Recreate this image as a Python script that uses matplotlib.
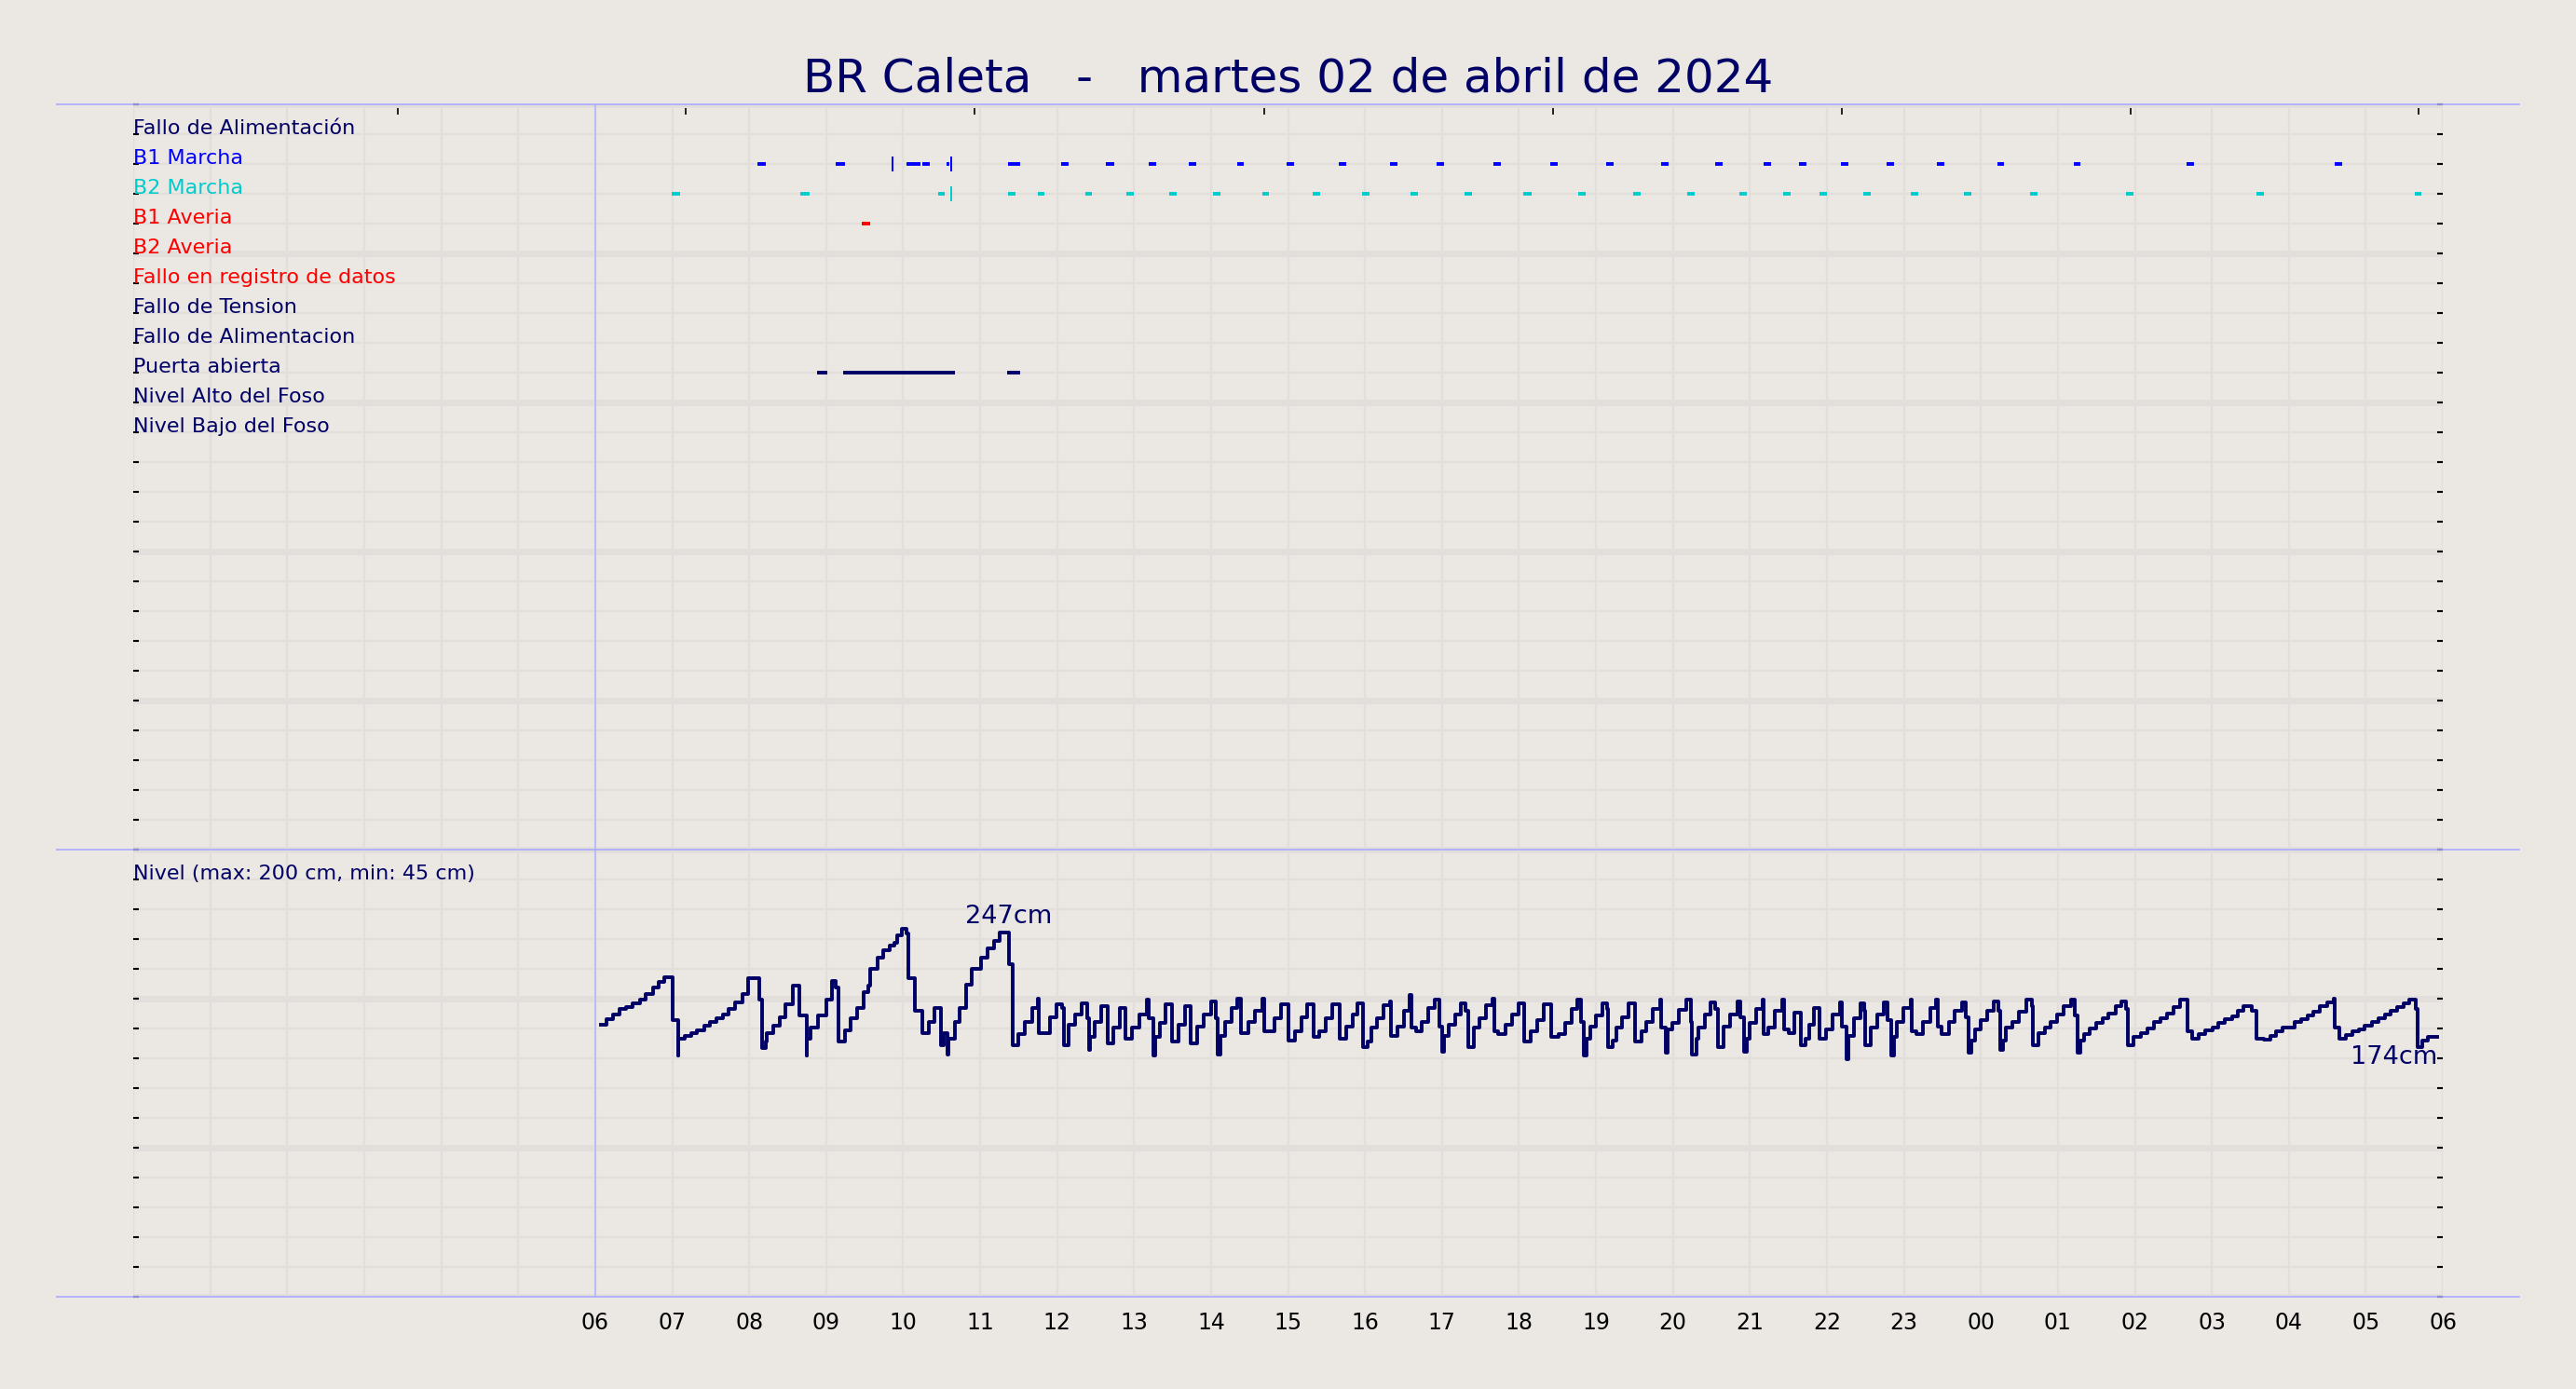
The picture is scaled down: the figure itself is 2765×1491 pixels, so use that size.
import matplotlib
matplotlib.use("Agg")
import matplotlib.pyplot as plt
from matplotlib.lines import Line2D
from matplotlib.ticker import MultipleLocator

## data (hours since 06:00, cm)
titulo = "BR Caleta   -   martes 02 de abril de 2024"
horas_lbl = ["06", "07", "08", "09", "10", "11", "12", "13", "14", "15", "16", "17",
             "18", "19", "20", "21", "22", "23", "00", "01", "02", "03", "04", "05", "06"]

senales = ["Fallo de Alimentación", "B1 Marcha", "B2 Marcha", "B1 Averia", "B2 Averia",
           "Fallo en registro de datos", "Fallo de Tension", "Fallo de Alimentacion",
           "Puerta abierta", "Nivel Alto del Foso", "Nivel Bajo del Foso"]
senales_color = ["#000066", "#0000ff", "#00cccc", "#ff0000", "#ff0000",
                 "#ff0000", "#000066", "#000066", "#000066", "#000066", "#000066"]

b1_ini = [2.105, 3.119, 4.042, 4.248, 4.561, 5.361, 6.046, 6.630, 7.185, 7.715, 8.341, 8.981,
          9.659, 10.325, 10.929, 11.669, 12.404, 13.134, 13.847, 14.551, 15.176, 15.637,
          16.181, 16.774, 17.425, 18.213, 19.205, 20.670, 22.596]
b1_fin = [2.212, 3.243, 4.221, 4.345, 4.605, 5.517, 6.143, 6.737, 7.283, 7.812, 8.425, 9.076,
          9.753, 10.420, 11.029, 11.764, 12.504, 13.228, 13.942, 14.645, 15.275, 15.737,
          16.276, 16.869, 17.525, 18.297, 19.294, 20.769, 22.690]
b1_puntual = [3.864, 4.625]

b2_ini = [0.991, 2.660, 4.454, 5.360, 5.744, 6.364, 6.895, 7.461, 8.026, 8.666, 9.317, 9.963,
          10.593, 11.291, 12.058, 12.771, 13.485, 14.183, 14.860, 15.433, 15.905, 16.470,
          17.089, 17.777, 18.638, 19.882, 21.578, 23.635]
b2_fin = [1.100, 2.783, 4.535, 5.458, 5.831, 6.446, 6.991, 7.558, 8.120, 8.750, 9.417, 10.057,
          10.687, 11.391, 12.163, 12.866, 13.580, 14.283, 14.960, 15.527, 16.000, 16.564,
          17.184, 17.871, 18.732, 19.982, 21.672, 23.719]
b2_puntual = [4.625]

b1_averia_ini = [3.460]
b1_averia_fin = [3.568]

puerta_ini = [2.877, 3.217, 5.344]
puerta_fin = [3.011, 4.675, 5.522]

nivel_horas = [
    0.073, 0.141, 0.234, 0.315, 0.403, 0.488, 0.577, 0.657, 0.746, 0.827, 0.899, 1.000,
    1.073, 1.080, 1.162, 1.242, 1.323, 1.412, 1.492, 1.573, 1.654, 1.734, 1.815, 1.908,
    1.989, 2.130, 2.170, 2.210, 2.230, 2.310, 2.392, 2.473, 2.561, 2.654, 2.743, 2.750,
    2.795, 2.896, 2.997, 3.078, 3.118, 3.158, 3.239, 3.320, 3.400, 3.481, 3.542, 3.570,
    3.663, 3.743, 3.824, 3.885, 3.925, 3.985, 4.046, 4.066, 4.155, 4.247, 4.328, 4.409,
    4.490, 4.530, 4.570, 4.590, 4.671, 4.732, 4.812, 4.893,
    5.014, 5.095, 5.176, 5.256, 5.377, 5.418, 5.498, 5.579, 5.680, 5.749, 5.760, 5.910,
    5.990, 6.063, 6.083, 6.144, 6.233, 6.313, 6.394, 6.420, 6.426, 6.487, 6.567, 6.656,
    6.729, 6.817, 6.890, 6.970, 7.072, 7.160, 7.193, 7.253, 7.273, 7.334, 7.403, 7.495,
    7.576, 7.656, 7.737, 7.818, 7.906, 7.999, 8.060, 8.080, 8.120, 8.180, 8.262, 8.342,
    8.383, 8.484, 8.564, 8.665, 8.685, 8.826, 8.907, 9.008, 9.089, 9.169, 9.250, 9.330,
    9.410, 9.490, 9.573, 9.674, 9.754, 9.835, 9.900,
    9.976, 10.037, 10.077, 10.158, 10.239, 10.319, 10.340, 10.420, 10.500, 10.580, 10.600,
    10.660, 10.740, 10.820, 10.900, 10.960, 10.997, 11.025, 11.086, 11.166, 11.247, 11.307,
    11.340, 11.410, 11.490, 11.570, 11.650, 11.680, 11.730, 11.830, 11.910, 11.990, 12.070,
    12.150, 12.235, 12.316, 12.417, 12.520, 12.600, 12.680, 12.760, 12.800, 12.840, 12.880,
    12.920, 13.000, 13.080, 13.140, 13.160, 13.220, 13.260, 13.340, 13.425, 13.506, 13.587,
    13.647, 13.736, 13.829, 13.850, 13.910, 13.930, 13.990, 14.080, 14.170, 14.230, 14.250,
    14.300, 14.330, 14.410, 14.490, 14.550, 14.580, 14.656, 14.745, 14.840,
    14.878, 14.920, 14.960, 14.999, 15.080, 15.170, 15.180, 15.240, 15.320, 15.420, 15.440,
    15.500, 15.580, 15.656, 15.725, 15.765, 15.834, 15.906, 15.987, 16.076, 16.169, 16.190,
    16.250, 16.280, 16.350, 16.430, 16.490, 16.500, 16.570, 16.650, 16.740, 16.790, 16.830,
    16.870, 16.906, 16.995, 17.085, 17.105, 17.157, 17.245, 17.338, 17.420, 17.440, 17.488,
    17.580, 17.660, 17.760, 17.800, 17.840, 17.880, 17.920, 18.000, 18.085, 18.165, 18.226,
    18.246, 18.286, 18.327, 18.407, 18.488, 18.589, 18.660, 18.670, 18.750, 18.830, 18.910,
    18.990, 19.073, 19.174, 19.214, 19.254, 19.290, 19.335, 19.416, 19.497, 19.577, 19.657,
    19.746, 19.827, 19.887, 19.912, 19.980, 20.081, 20.162, 20.242, 20.331, 20.412, 20.505,
    20.585, 20.678, 20.746, 20.827, 20.916, 21.009, 21.089, 21.170, 21.259, 21.340, 21.412,
    21.513, 21.585, 21.674, 21.755, 21.836, 21.916, 21.997, 22.078, 22.158, 22.239, 22.320,
    22.408, 22.500, 22.580, 22.600, 22.660, 22.744, 22.824, 22.905, 22.985, 23.074, 23.167,
    23.248, 23.328, 23.409, 23.490, 23.570, 23.650, 23.670, 23.730, 23.812, 23.930]
nivel_cm = [
    182.2, 185.8, 189.1, 192.7, 194.4, 196.9, 198.9, 203.1, 207.3, 211.0, 214.0, 185.4,
    161.4, 172.9, 175.0, 176.4, 178.7, 181.8, 183.9, 186.4, 189.1, 193.1, 197.3, 203.1,
    213.6, 199.4, 166.6, 170.8, 177.0, 181.8, 187.5, 195.8, 208.3, 188.5, 161.4, 172.9,
    180.2, 188.5, 198.9, 211.5, 207.3, 170.8, 178.7, 186.4, 193.7, 204.2, 208.8, 219.8,
    227.1, 232.3, 235.5, 237.6, 242.1, 247.0, 243.8, 213.6, 191.6, 177.0, 183.9, 193.7,
    168.7, 177.0, 162.4, 172.9, 184.3, 193.7, 209.4, 219.8,
    227.1, 233.4, 238.6, 244.4, 222.9, 168.7, 176.0, 184.3, 193.7, 200.0, 177.0, 187.5,
    195.8, 193.7, 168.7, 182.2, 189.5, 196.9, 186.4, 165.5, 173.9, 184.3, 194.8, 169.7,
    180.2, 193.7, 172.9, 180.2, 189.5, 199.0, 186.4, 161.4, 173.9, 183.3, 195.8, 170.8,
    182.2, 194.8, 170.1, 181.2, 189.5, 197.9, 186.4, 162.4, 175.0, 184.3, 193.7, 200.0,
    177.0, 184.3, 191.6, 200.0, 178.1, 186.4, 195.8, 171.8, 178.1, 187.5, 195.8, 173.9,
    178.1, 186.4, 195.8, 172.9, 181.2, 189.5, 197.0,
    167.6, 170.8, 180.2, 186.4, 195.2, 197.9, 174.9, 181.2, 191.6, 202.1, 180.2,
    178.1, 184.3, 193.7, 198.9, 181.2, 164.5, 175.0, 182.2, 189.5, 196.9, 191.6,
    167.6, 180.2, 186.4, 195.2, 200.0, 178.1, 176.0, 182.2, 189.5, 196.9, 170.8,
    178.1, 185.4, 195.8, 173.9, 176.0, 183.3, 192.7, 198.9, 184.3, 161.4, 172.9,
    181.2, 188.5, 196.9, 192.7, 167.6, 171.8, 180.2, 187.5, 196.4, 170.8, 178.1,
    184.3, 192.7, 198.9, 180.2, 163.5, 179.1, 183.3, 192.3, 198.9, 184.3, 162.4,
    172.9, 180.2, 189.5, 197.3, 192.7, 167.6, 181.2, 189.5, 197.9,
    187.5, 164.5, 172.9, 183.3, 192.7, 198.9, 176.0, 180.2, 191.6, 198.9, 179.1,
    177.0, 190.2, 168.7, 172.9, 182.2, 193.7, 172.9, 179.1, 189.5, 197.3, 181.2,
    159.3, 175.0, 186.4, 196.4, 191.6, 168.7, 180.2, 189.5, 197.3, 185.4, 161.4,
    173.9, 183.9, 193.3, 198.9, 178.1, 176.0, 184.3, 193.7, 198.9, 181.2, 176.0,
    184.3, 191.6, 197.3, 187.5, 163.5, 171.8, 179.1, 185.4, 191.6, 197.9, 191.6,
    165.6, 171.8, 180.2, 184.3, 191.0, 198.9, 194.8, 168.7, 177.0, 180.2, 184.3,
    189.5, 194.8, 198.9, 188.5, 163.5, 171.8, 176.0, 179.7, 183.3, 186.4, 190.0,
    194.8, 197.9, 193.1, 168.3, 174.3, 177.0, 179.7, 183.9, 186.4, 189.9, 194.3,
    198.9, 177.7, 172.9, 176.0, 178.7, 180.6, 183.3, 185.8, 188.1, 191.6, 194.8,
    191.6, 172.9, 172.4, 175.0, 177.7, 180.2, 180.6, 183.9, 185.8, 188.5, 191.2,
    194.8, 197.5, 200.0, 180.2, 172.9, 175.6, 178.1, 179.5, 181.8, 184.3, 186.4,
    189.5, 192.0, 194.3, 196.9, 198.9, 192.7, 167.6, 171.8, 173.9, 173.9]

top_tick_horas = [-2.56, 1.18, 4.93, 8.69, 12.44, 16.19, 19.94, 23.69]

## styles
fondo = "#ebe7e2"
rejilla = "#e2dedc"
marino = "#000066"
azul_linea = "#aaaaff"

fig = plt.figure(figsize=(27.65, 14.91), dpi=100, facecolor=fondo)
ax_top = fig.add_axes([0.05179, 0.38853, 0.8965, 0.53655], facecolor=fondo)
ax_bot = fig.add_axes([0.05179, 0.0666, 0.8965, 0.32193], facecolor=fondo)

def base_axes(ax, y_max, y_major, y_minor):
    ax.set_xlim(-6, 24)
    ax.set_ylim(0, y_max)
    for s in ax.spines.values():
        s.set_visible(False)
    ax.set_xticks(range(-6, 25))
    ax.yaxis.set_major_locator(MultipleLocator(y_major))
    ax.yaxis.set_minor_locator(MultipleLocator(y_minor))
    ax.set_yticklabels([])
    ax.grid(which="major", axis="x", color=rejilla, lw=1.7)
    ax.grid(which="major", axis="y", color=rejilla, lw=5)
    ax.grid(which="minor", axis="y", color=rejilla, lw=1.7)
    ax.set_axisbelow(True)
    ax.tick_params(axis="y", which="both", left=True, right=True, direction="in",
                   length=4.5, width=1.5, color="black")
    ax.tick_params(axis="x", which="major", length=0)
    ax.axvline(0, color="#b4b4ff", lw=1.2, zorder=1)

base_axes(ax_top, 25, 5, 1)
base_axes(ax_bot, 300, 100, 20)

## top panel: signals
ax_top.set_xticklabels([])
ax_top.set_xticks(top_tick_horas, minor=True)
ax_top.tick_params(axis="x", which="minor", top=True, bottom=False, direction="in",
                   length=8, width=1.2, color="black")

fila = {s: 24 - i for i, s in enumerate(senales)}
for s, c in zip(senales, senales_color):
    ax_top.text(-6, fila[s], s, color=c, fontsize=16, ha="left", va="baseline")

ax_top.hlines([fila["B1 Marcha"]] * len(b1_ini), b1_ini, b1_fin, color="#0000ff", lw=2.8)
ax_top.plot(b1_puntual, [fila["B1 Marcha"]] * len(b1_puntual), "|", color="#0000ff",
            ms=12, mew=1.4)
ax_top.hlines([fila["B2 Marcha"]] * len(b2_ini), b2_ini, b2_fin, color="#00cccc", lw=2.8)
ax_top.plot(b2_puntual, [fila["B2 Marcha"]] * len(b2_puntual), "|", color="#00cccc",
            ms=12, mew=1.4)
ax_top.hlines([fila["B1 Averia"]] * len(b1_averia_ini), b1_averia_ini, b1_averia_fin,
              color="#ff0000", lw=2.8)
ax_top.hlines([fila["Puerta abierta"]] * len(puerta_ini), puerta_ini, puerta_fin,
              color=marino, lw=2.8)

## bottom panel: level
ax_bot.set_xticklabels([""] * 6 + horas_lbl, fontsize=17)
ax_bot.tick_params(axis="x", pad=12, labelcolor="black")
ax_bot.text(-6, 280, "Nivel (max: 200 cm, min: 45 cm)", color=marino, fontsize=16,
            ha="left", va="baseline")
ax_bot.step(nivel_horas, nivel_cm, where="post", color=marino, lw=2.8)

i_max = nivel_cm.index(max(nivel_cm))
ax_bot.text(4.81, 250.7, "%dcm" % round(nivel_cm[i_max]), color=marino, fontsize=19.5,
            ha="left", va="baseline")
ax_bot.text(nivel_horas[-1], 156.2, "%dcm" % round(nivel_cm[-1]), color=marino,
            fontsize=19.5, ha="right", va="baseline")

## title and frame lines
fig.text(0.5, 0.934, titulo, ha="center", va="baseline", fontsize=36, color=marino)
for y in [0.92508, 0.38853, 0.0666]:
    fig.add_artist(Line2D([0.022, 0.978], [y, y], transform=fig.transFigure,
                          color=azul_linea, lw=1.2))

fig.savefig("out.png", dpi=100, facecolor=fondo)
